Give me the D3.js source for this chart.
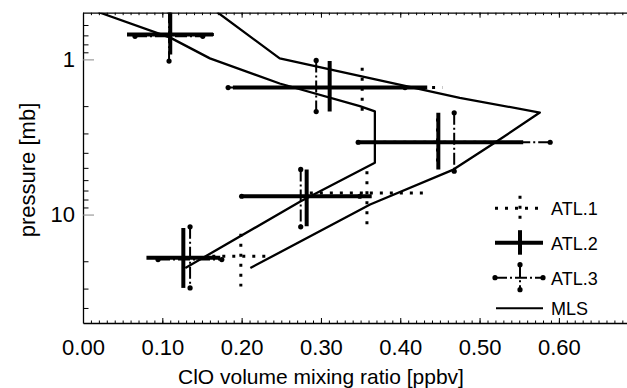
<!DOCTYPE html>
<html lang="en">
<head>
    <meta charset="UTF-8">
    <title>ClO profiles</title>
    <script src="https://cdnjs.cloudflare.com/ajax/libs/d3/7.8.5/d3.min.js"></script>
    <style>
        body { margin: 0; background: white; }
        text { font-family: "Liberation Sans", Arial, Helvetica, sans-serif; fill: black; }
    </style>
</head>
<body>
    <div id="chart"></div>

    <script>
        // MLS profiles (ppbv, mb)
        const mlsA_x = [0.019, 0.110, 0.160, 0.248, 0.349, 0.368, 0.368, 0.274, 0.129];
        const mlsA_p = [0.495, 0.724, 0.985, 1.43, 2.00, 2.16, 4.64, 8.25, 22.1];
        const mlsB_x = [0.169, 0.248, 0.475, 0.576, 0.522, 0.467, 0.362, 0.211];
        const mlsB_p = [0.495, 0.985, 1.77, 2.20, 3.37, 5.13, 8.62, 22.1];

        // ATLAS measurements: value, value range, pressure, pressure range
        const atl1_x   = [0.110, 0.352, 0.447, 0.358, 0.199];
        const atl1_xlo = [0.075, 0.251, 0.366, 0.286, 0.163];
        const atl1_xhi = [0.165, 0.453, 0.522, 0.431, 0.236];
        const atl1_p   = [0.69, 1.52, 3.42, 7.25, 18.6];
        const atl1_plo = [0.55, 1.13, 2.4, 5.25, 13.3];
        const atl1_phi = [0.90, 2.17, 4.8, 11.9, 29.1];

        const atl2_x   = [0.110, 0.311, 0.448, 0.282, 0.1265];
        const atl2_xlo = [0.0555, 0.189, 0.345, 0.200, 0.080];
        const atl2_xhi = [0.164, 0.434, 0.555, 0.364, 0.173];
        const atl2_p   = [0.69, 1.52, 3.42, 7.62, 19.0];
        const atl2_plo = [0.45, 1.025, 2.21, 5.12, 12.2];
        const atl2_phi = [0.93, 2.17, 5.12, 11.9, 29.7];

        const atl3_x   = [0.1085, 0.294, 0.468, 0.2745, 0.135];
        const atl3_xlo = [0.0656, 0.183, 0.347, 0.200, 0.0946];
        const atl3_xhi = [0.151, 0.406, 0.589, 0.349, 0.175];
        const atl3_p   = [0.71, 1.52, 3.42, 7.62, 19.5];
        const atl3_plo = [0.49, 1.015, 2.21, 5.12, 12.0];
        const atl3_phi = [1.025, 2.17, 5.25, 12.0, 29.7];

        const xTicks = [0, 0.1, 0.2, 0.3, 0.4, 0.5, 0.6, 0.7];
        const xTickLabels = ["0.00", "0.10", "0.20", "0.30", "0.40", "0.50", "0.60", ""];
        const yTicks = [1, 10];
        const yTickLabels = ["1", "10"];
        const legendLabels = ["ATL.1", "ATL.2", "ATL.3", "MLS"];

        const width = 627, height = 388;
        const plotLeft = 83, plotTop = 12.7, plotBottom = 323;

        const svg = d3.select("#chart").append("svg")
            .attr("width", width)
            .attr("height", height);

        const x = d3.scaleLinear().domain([0, 0.7]).range([plotLeft, plotLeft + 555.2]);
        const y = d3.scaleLog().domain([0.5, 50]).range([plotTop, plotBottom]);

        svg.append("defs").append("clipPath").attr("id", "plot")
            .append("rect")
            .attr("x", plotLeft).attr("y", plotTop)
            .attr("width", 600).attr("height", plotBottom - plotTop);

        const plot = svg.append("g").attr("clip-path", "url(#plot)");

        // MLS lines
        const line = d3.line().x(d => x(d[0])).y(d => y(d[1]));
        [[mlsA_x, mlsA_p], [mlsB_x, mlsB_p]].forEach(([xs, ps]) => {
            plot.append("path")
                .attr("d", line(d3.zip(xs, ps)))
                .attr("fill", "none")
                .attr("stroke", "black")
                .attr("stroke-width", 2.3)
                .attr("stroke-linejoin", "round");
        });

        // error bar styles
        const styles = [
            { width: 3, dash: "3,7", dots: false },
            { width: 4, dash: null, dots: false },
            { width: 2, dash: "12,3,2,3", dots: true }
        ];

        const series = [
            [atl1_x, atl1_xlo, atl1_xhi, atl1_p, atl1_plo, atl1_phi],
            [atl2_x, atl2_xlo, atl2_xhi, atl2_p, atl2_plo, atl2_phi],
            [atl3_x, atl3_xlo, atl3_xhi, atl3_p, atl3_plo, atl3_phi]
        ];

        function seg(g, x1, y1, x2, y2, st) {
            g.append("line")
                .attr("x1", x1).attr("y1", y1)
                .attr("x2", x2).attr("y2", y2)
                .attr("stroke", "black")
                .attr("stroke-width", st.width)
                .attr("stroke-dasharray", st.dash);
        }

        function dot(g, cx, cy) {
            g.append("circle").attr("cx", cx).attr("cy", cy).attr("r", 2.6).attr("fill", "black");
        }

        series.forEach((s, k) => {
            const st = styles[k];
            const [xs, xlo, xhi, ps, plo, phi] = s;
            xs.forEach((v, i) => {
                const g = plot.append("g");
                seg(g, x(xlo[i]), y(ps[i]), x(xhi[i]), y(ps[i]), st);
                seg(g, x(v), y(plo[i]), x(v), y(phi[i]), st);
                if (st.dots) {
                    dot(g, x(xlo[i]), y(ps[i]));
                    dot(g, x(xhi[i]), y(ps[i]));
                    dot(g, x(v), y(plo[i]));
                    dot(g, x(v), y(phi[i]));
                }
            });
        });

        // axes
        const minorX = d3.range(0, 71).map(i => i / 100);
        const minorY = [0.6, 0.7, 0.8, 0.9, 2, 3, 4, 5, 6, 7, 8, 9, 20, 30, 40];

        const axisStyle = g => {
            g.select(".domain").attr("stroke", "black").attr("stroke-width", 1.3);
            g.selectAll(".tick line").attr("stroke", "black").attr("stroke-width", 1);
        };

        svg.append("g")
            .attr("transform", `translate(0,${plotBottom})`)
            .call(d3.axisBottom(x).tickValues(minorX).tickSize(-2.5).tickFormat("").tickSizeOuter(0))
            .call(axisStyle);
        svg.append("g")
            .attr("transform", `translate(0,${plotBottom})`)
            .call(d3.axisBottom(x).tickValues(xTicks).tickSize(-5).tickSizeOuter(0).tickPadding(16)
                .tickFormat((d, i) => xTickLabels[i]))
            .call(axisStyle)
            .call(g => g.select(".domain").remove())
            .selectAll("text")
            .style("font-size", "22px");

        svg.append("g")
            .attr("transform", `translate(0,${plotTop})`)
            .call(d3.axisTop(x).tickValues(minorX).tickSize(-2.5).tickFormat("").tickSizeOuter(0))
            .call(axisStyle);
        svg.append("g")
            .attr("transform", `translate(0,${plotTop})`)
            .call(d3.axisTop(x).tickValues(xTicks).tickSize(-5).tickFormat("").tickSizeOuter(0))
            .call(axisStyle)
            .call(g => g.select(".domain").remove());

        svg.append("g")
            .attr("transform", `translate(${plotLeft},0)`)
            .call(d3.axisLeft(y).tickValues(minorY).tickSize(-5.5).tickFormat("").tickSizeOuter(0))
            .call(axisStyle);
        svg.append("g")
            .attr("transform", `translate(${plotLeft},0)`)
            .call(d3.axisLeft(y).tickValues(yTicks).tickSize(-11).tickPadding(8).tickSizeOuter(0)
                .tickFormat((d, i) => yTickLabels[i]))
            .call(axisStyle)
            .call(g => g.select(".domain").remove())
            .call(g => g.selectAll(".tick line").attr("stroke", "#888"))
            .selectAll("text")
            .style("font-size", "22px");

        // axis titles
        svg.append("text")
            .attr("x", 321).attr("y", 384)
            .attr("text-anchor", "middle")
            .style("font-size", "21px")
            .text("ClO volume mixing ratio [ppbv]");

        svg.append("text")
            .attr("transform", "translate(35,170) rotate(-90)")
            .attr("text-anchor", "middle")
            .style("font-size", "22px")
            .text("pressure [mb]");

        // legend
        const legend = svg.append("g");
        const legendY = [208.3, 242.7, 277.7, 308.3];
        legendLabels.forEach((label, i) => {
            const ly = legendY[i];
            const g = legend.append("g");
            if (i < 3) {
                const st = styles[i];
                seg(g, 495, ly, 543, ly, st);
                seg(g, 520, ly - 12.5, 520, ly + 12, st);
                if (st.dots) {
                    dot(g, 495, ly); dot(g, 543, ly);
                    dot(g, 520, ly - 13); dot(g, 520, ly + 12);
                }
            } else {
                seg(g, 496, ly, 543, ly, { width: 2, dash: null });
            }
            g.append("text")
                .attr("x", 551).attr("y", ly + 7)
                .style("font-size", "18px")
                .text(label);
        });
    </script>
</body>
</html>
